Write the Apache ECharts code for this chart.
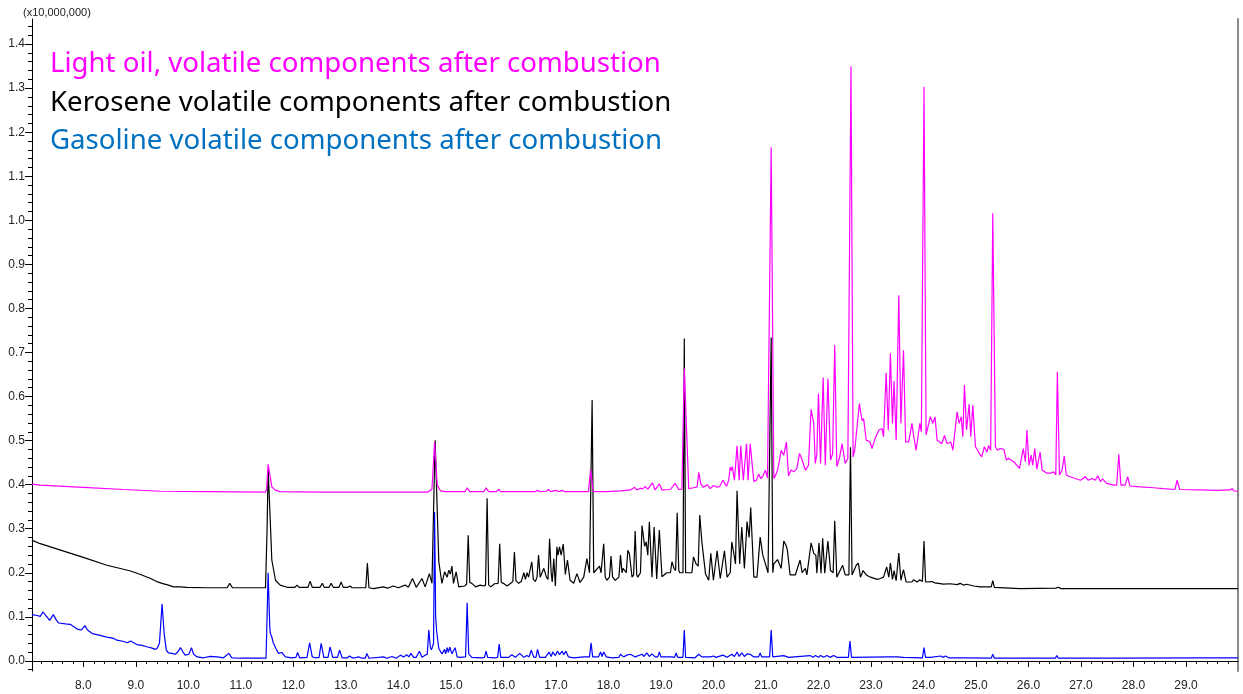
<!DOCTYPE html>
<html>
<head>
<meta charset="utf-8">
<script src="https://cdn.jsdelivr.net/npm/echarts@6/dist/echarts.min.js"></script>
<style>
html,body{margin:0;padding:0;background:#fff;}
#chart{width:1243px;height:694px;}
</style>
</head>
<body>
<div id="chart"></div>
<script>
// ---- Data (retention time [min], intensity [x10,000,000]) ----
const seriesNames = [
  'Light oil, volatile components after combustion',
  'Kerosene volatile components after combustion',
  'Gasoline volatile components after combustion'
];
const xTickLabels = [8,9,10,11,12,13,14,15,16,17,18,19,20,21,22,23,24,25,26,27,28,29];
const yTickLabels = [0.0,0.1,0.2,0.3,0.4,0.5,0.6,0.7,0.8,0.9,1.0,1.1,1.2,1.3,1.4];
const yUnitLabel = '(x10,000,000)';

const lightOil = [
[7.02,0.401],[7.18,0.399],[8.0,0.394],[8.77,0.389],[9.47,0.385],[10.36,0.384],[11.47,0.383],[11.49,0.39],[11.52,0.446],[11.56,0.418],[11.59,0.395],[11.66,0.387],[11.75,0.384],[12.5,0.383],[13.4,0.383],[14.55,0.383],[14.6,0.386],[14.64,0.39],[14.69,0.497],[14.74,0.40],[14.8,0.386],[14.9,0.384],[15.27,0.384],[15.31,0.393],[15.36,0.384],[15.63,0.384],[15.67,0.393],[15.72,0.384],[15.87,0.384],[15.91,0.389],[15.95,0.384],[16.6,0.384],[16.65,0.387],[16.7,0.384],[16.82,0.385],[16.86,0.389],[16.9,0.384],[17.0,0.387],[17.05,0.384],[17.12,0.387],[17.17,0.384],[17.62,0.384],[17.66,0.434],[17.71,0.384],[17.97,0.384],[18.23,0.386],[18.42,0.388],[18.5,0.394],[18.54,0.388],[18.61,0.392],[18.65,0.39],[18.7,0.396],[18.75,0.39],[18.84,0.404],[18.89,0.388],[18.97,0.402],[19.02,0.388],[19.18,0.389],[19.27,0.403],[19.34,0.389],[19.4,0.39],[19.445,0.664],[19.53,0.391],[19.62,0.393],[19.69,0.395],[19.72,0.428],[19.76,0.402],[19.81,0.394],[19.88,0.40],[19.94,0.391],[20.0,0.398],[20.07,0.394],[20.12,0.396],[20.18,0.41],[20.25,0.396],[20.29,0.41],[20.32,0.44],[20.34,0.432],[20.36,0.441],[20.4,0.41],[20.45,0.488],[20.49,0.41],[20.52,0.488],[20.57,0.41],[20.63,0.493],[20.66,0.41],[20.7,0.493],[20.77,0.407],[20.82,0.41],[20.86,0.424],[20.9,0.414],[20.94,0.419],[20.99,0.433],[21.03,0.415],[21.10,1.166],[21.15,0.414],[21.18,0.42],[21.22,0.433],[21.25,0.45],[21.29,0.478],[21.34,0.467],[21.39,0.497],[21.43,0.42],[21.48,0.433],[21.53,0.429],[21.59,0.437],[21.64,0.471],[21.69,0.456],[21.75,0.433],[21.81,0.444],[21.86,0.571],[21.91,0.539],[21.94,0.448],[21.97,0.47],[22.0,0.607],[22.04,0.448],[22.09,0.643],[22.13,0.444],[22.18,0.641],[22.23,0.456],[22.27,0.47],[22.31,0.717],[22.35,0.441],[22.4,0.46],[22.45,0.493],[22.51,0.448],[22.56,0.46],[22.62,1.35],[22.66,0.463],[22.69,0.478],[22.72,0.474],[22.78,0.584],[22.83,0.545],[22.86,0.55],[22.91,0.501],[22.98,0.497],[23.02,0.482],[23.08,0.505],[23.15,0.524],[23.21,0.527],[23.24,0.509],[23.29,0.654],[23.33,0.524],[23.37,0.698],[23.41,0.539],[23.44,0.635],[23.48,0.501],[23.53,0.83],[23.57,0.539],[23.62,0.705],[23.66,0.497],[23.72,0.497],[23.78,0.539],[23.81,0.513],[23.86,0.478],[23.93,0.539],[23.96,0.52],[24.01,1.303],[24.05,0.513],[24.08,0.516],[24.13,0.554],[24.18,0.539],[24.22,0.554],[24.26,0.501],[24.31,0.497],[24.35,0.493],[24.4,0.512],[24.45,0.493],[24.52,0.497],[24.56,0.478],[24.64,0.565],[24.68,0.539],[24.72,0.554],[24.75,0.509],[24.78,0.626],[24.82,0.524],[24.87,0.583],[24.9,0.509],[24.94,0.58],[24.99,0.486],[25.05,0.474],[25.11,0.463],[25.16,0.486],[25.21,0.474],[25.24,0.489],[25.28,0.478],[25.32,1.016],[25.37,0.486],[25.41,0.478],[25.46,0.482],[25.53,0.48],[25.58,0.456],[25.62,0.46],[25.72,0.452],[25.83,0.437],[25.9,0.482],[25.94,0.452],[25.97,0.524],[26.01,0.444],[26.05,0.467],[26.08,0.444],[26.12,0.482],[26.16,0.435],[26.22,0.474],[26.26,0.433],[26.35,0.426],[26.42,0.426],[26.48,0.429],[26.52,0.422],[26.55,0.656],[26.59,0.422],[26.64,0.433],[26.68,0.465],[26.72,0.422],[26.8,0.418],[26.89,0.414],[26.99,0.41],[27.08,0.418],[27.14,0.41],[27.21,0.414],[27.27,0.41],[27.32,0.42],[27.37,0.407],[27.41,0.413],[27.49,0.403],[27.62,0.399],[27.68,0.399],[27.72,0.469],[27.76,0.399],[27.84,0.399],[27.89,0.418],[27.93,0.397],[28.13,0.395],[28.38,0.393],[28.57,0.391],[28.79,0.389],[28.83,0.41],[28.88,0.389],[29.27,0.388],[29.59,0.387],[29.84,0.388],[29.88,0.391],[29.91,0.386],[29.99,0.385]
];

const kerosene = [
[7.02,0.274],[7.18,0.266],[8.0,0.235],[8.45,0.217],[8.9,0.204],[9.09,0.196],[9.28,0.187],[9.4,0.18],[9.5,0.176],[9.62,0.172],[9.72,0.168],[9.85,0.168],[9.97,0.167],[10.36,0.166],[10.74,0.166],[10.79,0.176],[10.84,0.166],[11.47,0.166],[11.5,0.3],[11.52,0.436],[11.56,0.319],[11.59,0.229],[11.66,0.183],[11.75,0.172],[11.88,0.167],
[12.03,0.167],[12.07,0.172],[12.11,0.167],[12.28,0.167],[12.32,0.181],[12.36,0.167],[12.51,0.167],[12.55,0.176],[12.59,0.167],[12.68,0.167],[12.72,0.176],[12.76,0.167],[12.87,0.167],[12.91,0.179],[12.95,0.167],[13.04,0.167],[13.08,0.170],[13.12,0.166],[13.38,0.166],[13.41,0.222],[13.44,0.166],[13.53,0.164],[13.71,0.168],[13.8,0.165],[13.9,0.170],[14.0,0.166],[14.13,0.172],[14.19,0.167],[14.27,0.187],[14.34,0.167],[14.45,0.187],[14.51,0.168],[14.59,0.198],[14.64,0.176],[14.70,0.501],[14.77,0.225],[14.83,0.176],[14.88,0.202],[14.93,0.190],[14.96,0.206],[14.99,0.197],[15.02,0.215],[15.05,0.176],[15.1,0.202],[15.15,0.168],[15.26,0.170],[15.30,0.174],[15.33,0.285],[15.36,0.178],[15.4,0.176],[15.47,0.168],[15.56,0.172],[15.62,0.170],[15.66,0.172],[15.69,0.369],[15.72,0.172],[15.76,0.168],[15.83,0.175],[15.90,0.176],[15.93,0.266],[15.96,0.178],[16.0,0.176],[16.07,0.170],[16.14,0.176],[16.18,0.18],[16.21,0.247],[16.24,0.182],[16.29,0.176],[16.34,0.18],[16.39,0.2],[16.42,0.185],[16.45,0.2],[16.48,0.19],[16.51,0.19],[16.54,0.225],[16.57,0.185],[16.61,0.18],[16.64,0.19],[16.67,0.24],[16.70,0.19],[16.73,0.187],[16.77,0.21],[16.82,0.19],[16.85,0.185],[16.88,0.277],[16.91,0.2],[16.93,0.179],[16.96,0.232],[16.99,0.17],[17.02,0.259],[17.04,0.24],[17.07,0.259],[17.1,0.24],[17.14,0.265],[17.18,0.196],[17.22,0.229],[17.27,0.183],[17.34,0.176],[17.4,0.198],[17.46,0.178],[17.53,0.19],[17.59,0.232],[17.64,0.2],[17.67,0.2],[17.69,0.592],[17.72,0.2],[17.75,0.198],[17.83,0.215],[17.86,0.2],[17.91,0.266],[17.94,0.19],[17.97,0.183],[18.02,0.19],[18.05,0.238],[18.08,0.19],[18.13,0.183],[18.2,0.19],[18.23,0.24],[18.26,0.2],[18.28,0.21],[18.34,0.2],[18.37,0.251],[18.4,0.243],[18.45,0.19],[18.48,0.195],[18.51,0.295],[18.54,0.195],[18.56,0.19],[18.61,0.2],[18.64,0.307],[18.69,0.26],[18.72,0.27],[18.75,0.24],[18.78,0.316],[18.83,0.19],[18.87,0.304],[18.92,0.186],[18.97,0.297],[19.02,0.191],[19.11,0.2],[19.18,0.2],[19.21,0.225],[19.25,0.21],[19.28,0.205],[19.31,0.336],[19.34,0.205],[19.36,0.2],[19.42,0.2],[19.445,0.732],[19.47,0.2],[19.5,0.197],[19.59,0.2],[19.62,0.236],[19.67,0.22],[19.71,0.215],[19.74,0.331],[19.78,0.27],[19.85,0.197],[19.91,0.183],[19.95,0.244],[20.0,0.183],[20.07,0.25],[20.13,0.187],[20.21,0.25],[20.26,0.19],[20.32,0.2],[20.35,0.27],[20.38,0.25],[20.42,0.22],[20.45,0.386],[20.5,0.22],[20.54,0.304],[20.59,0.21],[20.64,0.316],[20.68,0.28],[20.71,0.348],[20.77,0.19],[20.83,0.19],[20.89,0.281],[20.94,0.24],[20.99,0.22],[21.04,0.2],[21.07,0.2],[21.10,0.734],[21.13,0.2],[21.15,0.22],[21.22,0.23],[21.29,0.21],[21.34,0.272],[21.39,0.26],[21.41,0.25],[21.46,0.195],[21.56,0.195],[21.65,0.229],[21.69,0.2],[21.75,0.21],[21.78,0.195],[21.86,0.268],[21.91,0.244],[21.95,0.24],[21.97,0.199],[22.01,0.268],[22.05,0.199],[22.08,0.278],[22.12,0.199],[22.18,0.272],[22.23,0.205],[22.28,0.2],[22.31,0.318],[22.35,0.19],[22.46,0.217],[22.51,0.195],[22.58,0.195],[22.61,0.485],[22.64,0.195],[22.72,0.217],[22.76,0.222],[22.8,0.19],[22.85,0.205],[22.91,0.195],[22.99,0.19],[23.12,0.185],[23.18,0.187],[23.24,0.19],[23.3,0.213],[23.34,0.19],[23.37,0.222],[23.41,0.185],[23.44,0.205],[23.48,0.182],[23.53,0.245],[23.57,0.183],[23.62,0.207],[23.67,0.179],[23.78,0.179],[23.81,0.184],[23.88,0.179],[23.93,0.184],[23.98,0.18],[24.01,0.272],[24.04,0.179],[24.16,0.18],[24.22,0.177],[24.38,0.174],[24.51,0.175],[24.64,0.173],[24.7,0.176],[24.76,0.172],[24.82,0.174],[24.96,0.17],[25.08,0.168],[25.29,0.168],[25.32,0.182],[25.35,0.167],[25.84,0.164],[26.52,0.165],[26.57,0.167],[26.62,0.164],[27.37,0.164],[29.99,0.164]
];

const gasoline = [
[7.02,0.105],[7.12,0.103],[7.18,0.101],[7.23,0.111],[7.28,0.104],[7.36,0.092],[7.43,0.105],[7.49,0.092],[7.53,0.086],[7.66,0.084],[7.75,0.083],[7.8,0.079],[7.89,0.072],[7.96,0.07],[8.03,0.08],[8.08,0.07],[8.17,0.062],[8.32,0.058],[8.45,0.054],[8.58,0.051],[8.64,0.047],[8.77,0.044],[8.84,0.041],[8.9,0.045],[8.96,0.041],[9.02,0.037],[9.12,0.035],[9.21,0.032],[9.31,0.029],[9.37,0.026],[9.41,0.029],[9.45,0.04],[9.5,0.129],[9.54,0.062],[9.58,0.025],[9.62,0.018],[9.69,0.017],[9.75,0.015],[9.8,0.02],[9.85,0.03],[9.9,0.02],[9.94,0.013],[10.01,0.015],[10.06,0.03],[10.1,0.015],[10.17,0.009],[10.29,0.007],[10.42,0.01],[10.55,0.009],[10.67,0.007],[10.77,0.017],[10.83,0.007],[10.99,0.006],[11.24,0.006],[11.48,0.006],[11.50,0.10],[11.52,0.2],[11.55,0.08],[11.56,0.063],[11.59,0.054],[11.62,0.04],[11.68,0.025],[11.72,0.017],[11.75,0.015],[11.78,0.019],[11.85,0.009],[11.97,0.007],[12.05,0.008],[12.08,0.019],[12.12,0.007],[12.26,0.008],[12.31,0.041],[12.36,0.009],[12.42,0.007],[12.49,0.008],[12.53,0.04],[12.58,0.008],[12.66,0.008],[12.7,0.032],[12.75,0.008],[12.84,0.008],[12.88,0.024],[12.93,0.007],[13.03,0.007],[13.07,0.011],[13.12,0.007],[13.18,0.007],[13.24,0.009],[13.31,0.006],[13.37,0.006],[13.4,0.017],[13.44,0.006],[13.72,0.009],[13.78,0.006],[13.88,0.01],[13.96,0.006],[14.04,0.013],[14.1,0.009],[14.16,0.014],[14.2,0.009],[14.24,0.017],[14.29,0.008],[14.34,0.008],[14.4,0.022],[14.45,0.008],[14.51,0.013],[14.55,0.015],[14.58,0.07],[14.61,0.03],[14.63,0.025],[14.67,0.04],[14.69,0.338],[14.71,0.10],[14.73,0.066],[14.77,0.028],[14.8,0.024],[14.83,0.016],[14.88,0.026],[14.9,0.016],[14.93,0.03],[14.95,0.019],[14.98,0.031],[15.02,0.016],[15.08,0.03],[15.12,0.009],[15.18,0.008],[15.28,0.009],[15.31,0.132],[15.34,0.016],[15.4,0.008],[15.59,0.007],[15.64,0.008],[15.67,0.022],[15.7,0.008],[15.85,0.007],[15.89,0.008],[15.92,0.038],[15.95,0.008],[16.1,0.008],[16.16,0.014],[16.23,0.008],[16.31,0.017],[16.39,0.008],[16.45,0.012],[16.49,0.009],[16.53,0.024],[16.58,0.008],[16.62,0.008],[16.65,0.026],[16.69,0.008],[16.8,0.008],[16.87,0.02],[16.91,0.01],[16.94,0.02],[16.99,0.012],[17.03,0.022],[17.07,0.014],[17.12,0.022],[17.15,0.014],[17.19,0.022],[17.24,0.009],[17.34,0.007],[17.53,0.009],[17.64,0.009],[17.67,0.041],[17.7,0.009],[17.81,0.009],[17.85,0.02],[17.88,0.01],[17.91,0.02],[17.96,0.009],[18.07,0.007],[18.2,0.008],[18.23,0.015],[18.29,0.009],[18.35,0.013],[18.42,0.015],[18.51,0.009],[18.64,0.015],[18.68,0.01],[18.73,0.018],[18.78,0.01],[18.83,0.016],[18.89,0.009],[18.94,0.009],[18.97,0.02],[19.0,0.009],[19.21,0.009],[19.26,0.008],[19.29,0.018],[19.32,0.008],[19.42,0.008],[19.445,0.07],[19.47,0.008],[19.5,0.008],[19.65,0.007],[19.72,0.015],[19.78,0.009],[19.94,0.009],[20.0,0.011],[20.05,0.008],[20.18,0.013],[20.26,0.008],[20.35,0.015],[20.4,0.01],[20.45,0.02],[20.49,0.01],[20.54,0.018],[20.59,0.01],[20.64,0.016],[20.7,0.015],[20.77,0.009],[20.86,0.009],[20.89,0.018],[20.92,0.009],[21.07,0.009],[21.10,0.07],[21.13,0.009],[21.34,0.012],[21.43,0.008],[21.84,0.012],[21.9,0.008],[21.94,0.012],[22.0,0.008],[22.04,0.012],[22.1,0.008],[22.16,0.012],[22.22,0.008],[22.29,0.012],[22.35,0.008],[22.57,0.008],[22.6,0.045],[22.63,0.008],[23.34,0.009],[23.5,0.009],[23.62,0.008],[23.98,0.007],[24.01,0.03],[24.04,0.008],[24.13,0.008],[24.33,0.011],[24.37,0.008],[24.42,0.011],[24.48,0.007],[24.8,0.007],[25.29,0.006],[25.32,0.015],[25.35,0.006],[25.91,0.006],[26.51,0.006],[26.54,0.012],[26.57,0.006],[27.73,0.006],[29.21,0.007],[29.99,0.007]
];

// ---- Chart ----
const X_MIN = 7.023, X_MAX = 29.99;
const Y_MIN = -0.023, Y_MAX = 1.457;

const xMinor = [];
for (let i = 36; i <= 149; i++) { if (i % 5 !== 0) xMinor.push(+(i * 0.2).toFixed(2)); }
const yMinor = [];
for (let i = -1; i <= 72; i++) { if (i % 5 !== 0) yMinor.push(+(i * 0.02).toFixed(3)); }

const labelFont = { color: '#222', fontSize: 12, fontFamily: '"Liberation Sans", Arial, sans-serif' };
const legendFont = '27.6px "Noto Sans"';

const chart = echarts.init(document.getElementById('chart'), null, { renderer: 'canvas' });
chart.setOption({
  animation: false,
  backgroundColor: '#ffffff',
  grid: { left: 32, top: 19, right: 5, bottom: 23, containLabel: false },
  xAxis: [
    { type: 'value', min: X_MIN, max: X_MAX, position: 'bottom',
      axisLine: { show: true, lineStyle: { color: '#000', width: 1 } },
      axisTick: { show: true, inside: false, length: 6, customValues: xTickLabels, lineStyle: { color: '#000' } },
      axisLabel: { show: true, margin: 9, customValues: xTickLabels, formatter: v => Number(v).toFixed(1), ...labelFont },
      splitLine: { show: false } },
    { type: 'value', min: X_MIN, max: X_MAX, position: 'bottom',
      axisLine: { show: false },
      axisTick: { show: true, length: 3, customValues: xMinor, lineStyle: { color: '#000' } },
      axisLabel: { show: false }, splitLine: { show: false } },
    { type: 'value', min: X_MIN, max: X_MAX, position: 'top',
      axisLine: { show: true, lineStyle: { color: '#000', width: 1 } },
      axisTick: { show: false }, axisLabel: { show: false }, splitLine: { show: false } }
  ],
  yAxis: [
    { type: 'value', min: Y_MIN, max: Y_MAX, position: 'left',
      axisLine: { show: true, lineStyle: { color: '#000', width: 1 } },
      axisTick: { show: true, length: 7, customValues: yTickLabels, lineStyle: { color: '#000' } },
      axisLabel: { show: true, margin: 7, customValues: yTickLabels, formatter: v => Number(v).toFixed(1), ...labelFont },
      splitLine: { show: false } },
    { type: 'value', min: Y_MIN, max: Y_MAX, position: 'left',
      axisLine: { show: false },
      axisTick: { show: true, length: 4, customValues: yMinor, lineStyle: { color: '#000' } },
      axisLabel: { show: false }, splitLine: { show: false } },
    { type: 'value', min: Y_MIN, max: Y_MAX, position: 'right',
      axisLine: { show: true, lineStyle: { color: '#8a8a8a', width: 2 } },
      axisTick: { show: false }, axisLabel: { show: false }, splitLine: { show: false } }
  ],
  series: [
    { name: seriesNames[1], type: 'line', data: kerosene, showSymbol: false, symbol: 'none', silent: true,
      lineStyle: { color: '#000000', width: 1.2 }, z: 2 },
    { name: seriesNames[0], type: 'line', data: lightOil, showSymbol: false, symbol: 'none', silent: true,
      lineStyle: { color: '#ff00ff', width: 1.2 }, z: 3 },
    { name: seriesNames[2], type: 'line', data: gasoline, showSymbol: false, symbol: 'none', silent: true,
      lineStyle: { color: '#0000ff', width: 1.2 }, z: 4 }
  ],
  graphic: [
    { type: 'text', x: 23, y: 13, style: { text: yUnitLabel, fill: '#222', font: '11px "Liberation Sans", Arial, sans-serif', verticalAlign: 'middle' } },
    { type: 'text', x: 50, y: 64.5, style: { text: seriesNames[0], fill: '#ff00ff', font: legendFont, verticalAlign: 'middle' } },
    { type: 'text', x: 50, y: 103, style: { text: seriesNames[1], fill: '#000000', font: legendFont, verticalAlign: 'middle' } },
    { type: 'text', x: 50, y: 141.5, style: { text: seriesNames[2], fill: '#0070c0', font: legendFont, verticalAlign: 'middle' } }
  ]
});
</script>
</body>
</html>
